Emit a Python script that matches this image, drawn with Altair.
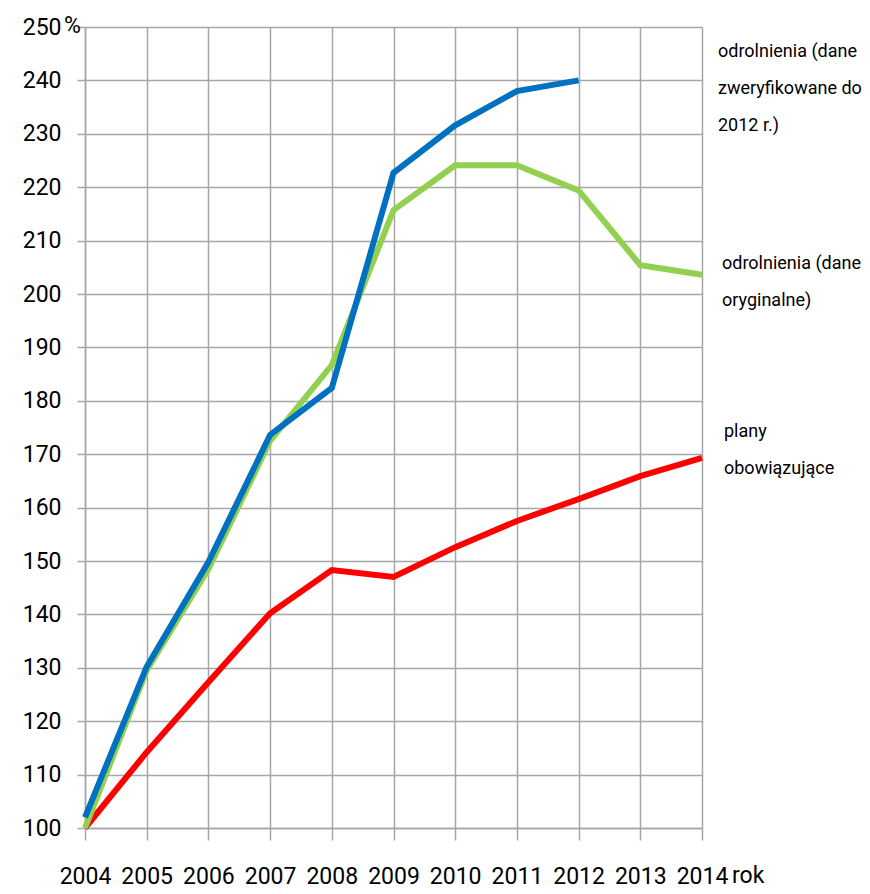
import altair as alt
import pandas as pd

years = [2004, 2005, 2006, 2007, 2008, 2009, 2010, 2011, 2012, 2013, 2014]
verified = [102.0, 130.2, 149.8, 173.6, 182.4, 222.7, 231.6, 238.0, 240.0, None, None]
original = [100.0, 129.5, 148.5, 172.5, 186.7, 215.7, 224.1, 224.1, 219.4, 205.4, 203.6]
plans = [100.0, 114.2, 127.3, 140.2, 148.3, 147.0, 152.6, 157.5, 161.6, 165.9, 169.3]

series_names = ["plany", "oryginalne", "zweryfikowane"]
series_colors = ["#FF0000", "#92D050", "#0070C0"]

label_texts = [
    "odrolnienia (dane\nzweryfikowane do\n2012 r.)",
    "odrolnienia (dane\noryginalne)",
    "plany\nobowiązujące",
]
label_values = [244.4, 204.7, 173.2]
label_dx = [16, 20, 22]

rows = []
for name, vals in zip(series_names, [plans, original, verified]):
    for y, v in zip(years, vals):
        if v is not None:
            rows.append({"rok": y, "wartosc": v, "seria": name})
df = pd.DataFrame(rows)

FONT = "Roboto"
AX_FS = 23

x_scale = alt.Scale(domain=[2004, 2014], nice=False, zero=False)
y_scale = alt.Scale(domain=[100, 250], nice=False, zero=False)

lines = alt.Chart(df).mark_line(strokeWidth=6, strokeCap="butt", strokeJoin="miter").encode(
    x=alt.X("rok:Q", scale=x_scale,
            axis=alt.Axis(values=years, format="d", title=None, grid=True,
                          gridColor="#A6A6A6", gridWidth=1.5, domainColor="#A6A6A6",
                          domainWidth=1.5, tickColor="#A6A6A6", tickWidth=1.5, tickSize=12,
                          labelFont=FONT, labelFontSize=AX_FS, labelColor="#000000",
                          labelPadding=25, labelFlush=False, labelOverlap=False)),
    y=alt.Y("wartosc:Q", scale=y_scale,
            axis=alt.Axis(values=list(range(100, 251, 10)), title=None, grid=True,
                          gridColor="#A6A6A6", gridWidth=1.5, domainColor="#A6A6A6",
                          domainWidth=1.5, tickColor="#A6A6A6", tickWidth=1.5, tickSize=8,
                          labelFont=FONT, labelFontSize=AX_FS, labelColor="#000000",
                          labelPadding=16, labelFlush=False, labelOverlap=False)),
    color=alt.Color("seria:N", scale=alt.Scale(domain=series_names, range=series_colors), legend=None),
    order=alt.Order("rok:Q"),
    detail="seria:N",
)

# draw order: plany, oryginalne, zweryfikowane (blue on top)
layers = []
for name in series_names:
    layers.append(lines.transform_filter(alt.datum.seria == name))

labels = []
for t, v, d in zip(label_texts, label_values, label_dx):
    sub = pd.DataFrame({"txt": [t], "v": [v], "rok": [years[-1]]})
    labels.append(
        alt.Chart(sub).mark_text(align="left", baseline="alphabetic", dx=d, font=FONT,
                                 fontSize=18, lineHeight=37, lineBreak="\n", color="#000000")
        .encode(x=alt.X("rok:Q", scale=x_scale), y=alt.Y("v:Q", scale=y_scale), text="txt:N")
    )

pct = alt.Chart(pd.DataFrame({"rok": [years[0]], "v": [250], "t": ["%"]})).mark_text(
    align="left", baseline="middle", dx=-21, dy=-1, font=FONT, fontSize=AX_FS, color="#000000"
).encode(x=alt.X("rok:Q", scale=x_scale), y=alt.Y("v:Q", scale=y_scale), text="t:N")

rok = alt.Chart(pd.DataFrame({"rok": [years[-1]], "v": [100], "t": ["rok"]})).mark_text(
    align="left", baseline="top", dx=30, dy=37, font=FONT, fontSize=AX_FS, color="#000000"
).encode(x=alt.X("rok:Q", scale=x_scale), y=alt.Y("v:Q", scale=y_scale), text="t:N")

chart = alt.layer(*layers, *labels, pct, rok).properties(
    width=617, height=801,
    autosize=alt.AutoSizeParams(type="none"),
    padding={"left": 77, "top": 19, "right": 160, "bottom": 66},
).configure_view(stroke=None).configure(background="#FFFFFF")

chart.save("out.html", embed_options={"renderer": "svg", "actions": False})
